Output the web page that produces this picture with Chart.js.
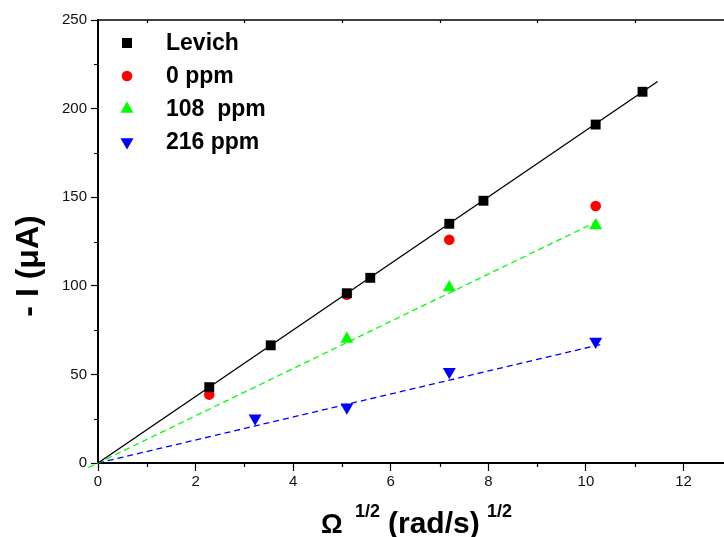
<!DOCTYPE html>
<html>
<head>
<meta charset="utf-8">
<script src="https://cdn.jsdelivr.net/npm/chart.js@4.4.1/dist/chart.umd.min.js"></script>
<style>
  html, body { margin: 0; padding: 0; background: #fff; }
  #wrap { width: 724px; height: 537px; }
</style>
</head>
<body>
<div id="wrap"><canvas id="levich"></canvas></div>
<script>
// data: x = omega^1/2, y = -I (uA)
const levichX = [2.28, 3.54, 5.1, 5.58, 7.2, 7.9, 10.2, 11.16];
const levichY = [42.8, 66.4, 95.8, 104.5, 135, 148, 191, 209.5];
const ppm0X = [2.28, 5.1, 7.2, 10.2];
const ppm0Y = [38.6, 95, 126, 145];
const ppm108X = [5.1, 7.2, 10.2];
const ppm108Y = [70, 99, 134];
const ppm216X = [3.22, 5.1, 7.2, 10.2];
const ppm216Y = [25.3, 31.4, 51.5, 68.5];

// fitted lines (end points)
const fitLevichX = [0, 11.47];
const fitLevichY = [0, 215.3];
const fit108X = [-0.2, 10.28];
const fit108Y = [-2.7, 137];
const fit216X = [0, 10.32];
const fit216Y = [0, 67];

const xTicks = [0, 2, 4, 6, 8, 10, 12];
const yTicks = [0, 50, 100, 150, 200, 250];

const pts = (xs, ys) => xs.map((x, i) => ({ x: x, y: ys[i] }));

const legendItems = [
  { label: "Levich", style: "rect", color: "#000000" },
  { label: "0 ppm", style: "circle", color: "#ff0000" },
  { label: "108  ppm", style: "triangle", color: "#00ff00" },
  { label: "216 ppm", style: "down", color: "#0000ff" },
];

function marker(ctx, style, x, y) {
  ctx.beginPath();
  if (style === "rect") {
    ctx.rect(x - 5, y - 5, 10, 10);
  } else if (style === "circle") {
    ctx.arc(x, y, 5.3, 0, Math.PI * 2);
  } else if (style === "triangle") {
    ctx.moveTo(x, y - 7.5);
    ctx.lineTo(x + 6.5, y + 3.75);
    ctx.lineTo(x - 6.5, y + 3.75);
  } else {
    ctx.moveTo(x, y + 7.5);
    ctx.lineTo(x + 6.5, y - 3.75);
    ctx.lineTo(x - 6.5, y - 3.75);
  }
  ctx.closePath();
  ctx.fill();
}

const extras = {
  id: "extras",
  afterDraw(chart) {
    const ctx = chart.ctx;
    const a = chart.chartArea;
    const xs = chart.scales.x, ys = chart.scales.y;
    ctx.save();
    ctx.fillStyle = "#000";
    ctx.strokeStyle = "#000";

    // top frame line
    ctx.lineWidth = 1.5;
    ctx.beginPath();
    ctx.moveTo(a.left, a.top);
    ctx.lineTo(chart.width, a.top);
    ctx.stroke();

    // minor ticks
    ctx.lineWidth = 1.2;
    ctx.beginPath();
    for (let v = 1; v < xs.max; v += 2) {
      const px = Math.round(xs.getPixelForValue(v)) + 0.5;
      ctx.moveTo(px, a.bottom);
      ctx.lineTo(px, a.bottom + 4);
      ctx.moveTo(px, a.top);
      ctx.lineTo(px, a.top + 3);
    }
    for (let v = 25; v < 250; v += 50) {
      const py = Math.round(ys.getPixelForValue(v)) + 0.5;
      ctx.moveTo(a.left, py);
      ctx.lineTo(a.left - 4, py);
    }
    ctx.stroke();

    // legend
    ctx.textBaseline = "middle";
    ctx.textAlign = "left";
    ctx.font = "bold 23px Arial, 'Liberation Sans', sans-serif";
    legendItems.forEach((it, i) => {
      const y = 43 + i * 33;
      ctx.fillStyle = it.color;
      marker(ctx, it.style, 127, y);
      ctx.fillStyle = "#000";
      ctx.fillText(it.label, 166, y + 1);
    });

    // y title
    ctx.save();
    ctx.translate(29, 266);
    ctx.rotate(-Math.PI / 2);
    ctx.textAlign = "center";
    ctx.textBaseline = "middle";
    ctx.font = "bold 32px Arial, 'Liberation Sans', sans-serif";
    ctx.fillText("- I (\u03BCA)", 0, 0);
    ctx.restore();

    // x title with superscripts
    ctx.textBaseline = "alphabetic";
    ctx.textAlign = "left";
    ctx.font = "bold 27px Arial, 'Liberation Sans', sans-serif";
    ctx.fillText("\u03A9", 321, 533);
    ctx.font = "bold 18px Arial, 'Liberation Sans', sans-serif";
    ctx.fillText("1/2", 355, 517);
    ctx.font = "bold 30px Arial, 'Liberation Sans', sans-serif";
    ctx.fillText("(rad/s)", 388, 533);
    ctx.font = "bold 18px Arial, 'Liberation Sans', sans-serif";
    ctx.fillText("1/2", 487, 517);
    ctx.restore();
  }
};

const tickFont = { family: "Arial, 'Liberation Sans', sans-serif", size: 15 };

new Chart(document.getElementById("levich"), {
  type: "scatter",
  data: {
    datasets: [
      {
        label: "Levich fit",
        data: pts(fitLevichX, fitLevichY),
        showLine: true,
        borderColor: "#000",
        borderWidth: 1.3,
        pointRadius: 0,
      },
      {
        label: "108 fit",
        data: pts(fit108X, fit108Y),
        showLine: true,
        borderColor: "#00ff00",
        borderWidth: 1.3,
        borderDash: [6, 4],
        pointRadius: 0,
        clip: false,
      },
      {
        label: "216 fit",
        data: pts(fit216X, fit216Y),
        showLine: true,
        borderColor: "#0000ff",
        borderWidth: 1.3,
        borderDash: [6, 4],
        pointRadius: 0,
      },
      {
        label: "Levich",
        data: pts(levichX, levichY),
        pointStyle: "rect",
        pointRadius: 7,
        backgroundColor: "#000",
        borderWidth: 0,
      },
      {
        label: "0 ppm",
        data: pts(ppm0X, ppm0Y),
        pointStyle: "circle",
        pointRadius: 5.3,
        backgroundColor: "#ff0000",
        borderWidth: 0,
      },
      {
        label: "108  ppm",
        data: pts(ppm108X, ppm108Y),
        pointStyle: "triangle",
        pointRadius: 7.5,
        backgroundColor: "#00ff00",
        borderWidth: 0,
      },
      {
        label: "216 ppm",
        data: pts(ppm216X, ppm216Y),
        pointStyle: "triangle",
        rotation: 180,
        pointRadius: 7.5,
        backgroundColor: "#0000ff",
        borderWidth: 0,
      },
    ],
  },
  options: {
    responsive: true,
    maintainAspectRatio: false,
    animation: false,
    layout: { autoPadding: false, padding: { top: 20, right: 0, left: 0, bottom: 0 } },
    plugins: { legend: { display: false }, tooltip: { enabled: false } },
    scales: {
      x: {
        type: "linear",
        min: 0,
        max: 12.83,
        afterBuildTicks: (s) => { s.ticks = xTicks.map(v => ({ value: v })); },
        afterFit: (s) => { s.height = 74; s.paddingLeft = 0; s.paddingRight = 0; },
        grid: { drawOnChartArea: false, tickLength: 8, tickColor: "#000", tickWidth: 1.2 },
        border: { color: "#000", width: 2 },
        ticks: { color: "#111", font: tickFont, padding: 2, maxRotation: 0 },
      },
      y: {
        type: "linear",
        min: 0,
        max: 250,
        afterBuildTicks: (s) => { s.ticks = yTicks.map(v => ({ value: v })); },
        afterFit: (s) => { s.width = 98; s.paddingTop = 0; s.paddingBottom = 0; },
        grid: { drawOnChartArea: false, tickLength: 7, tickColor: "#000", tickWidth: 1.2 },
        border: { color: "#000", width: 2 },
        ticks: { color: "#111", font: tickFont, padding: 4 },
      },
    },
  },
  plugins: [extras],
});
</script>
</body>
</html>
